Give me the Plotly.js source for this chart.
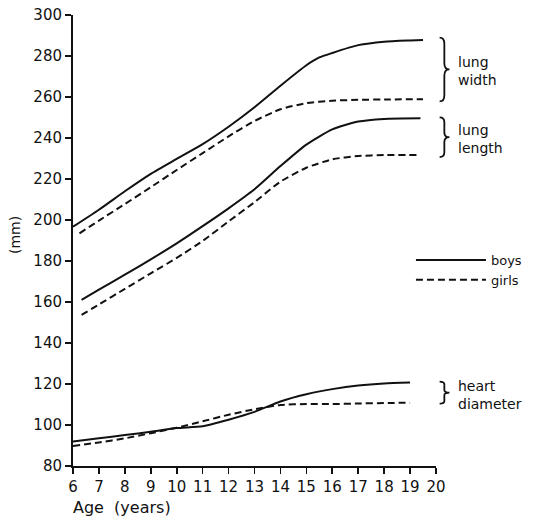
<!DOCTYPE html>
<html>
<head>
<meta charset="utf-8">
<script src="https://cdn.plot.ly/plotly-3.0.1.min.js"></script>
<style>html,body{margin:0;padding:0;background:#fff;}#chart{width:535px;height:520px;}</style>
</head>
<body>
<div id="chart"></div>
<script>
// Age (years) and measurements (mm)
const ageBoysWidth   = [6, 7, 8, 9, 10, 11, 12, 13, 14, 15, 15.5, 16, 17, 18, 19, 19.5];
const boysWidth      = [196.7, 205, 214, 222.5, 229.8, 237, 245.5, 255, 265.5, 275.5, 279.3, 281.5, 285.3, 287, 287.6, 287.8];
const ageGirlsWidth  = [6.25, 7, 8, 9, 10, 11, 12, 13, 14, 15, 16, 17, 18, 19.5];
const girlsWidth     = [193.5, 199.7, 207.8, 216, 224.4, 232.6, 240.8, 248.3, 254, 257, 258.2, 258.6, 258.8, 258.9];

const ageBoysLength  = [6.33, 7, 8, 9, 10, 11, 12, 13, 14, 15, 16, 17, 18, 19.4];
const boysLength     = [161, 166, 173.3, 180.8, 188.6, 197, 205.7, 215, 226.3, 236.8, 244.2, 248, 249.3, 249.6];
const ageGirlsLength = [6.33, 7, 8, 9, 10, 11, 12, 13, 14, 15, 16, 17, 18, 19.3];
const girlsLength    = [153.7, 158.8, 166.4, 174, 181.5, 189.8, 199.3, 208.7, 218.7, 225.5, 229.6, 231.2, 231.7, 231.7];

const ageHeart       = [6, 7, 8, 9, 10, 11, 12, 13, 14, 15, 16, 17, 18, 19];
const boysHeart      = [91.9, 93.5, 95.1, 96.7, 98.5, 99.4, 102.6, 106.4, 111.5, 115, 117.5, 119.3, 120.3, 120.7];
const girlsHeart     = [89.8, 91.5, 93.5, 96, 98.7, 101.8, 105, 107.7, 109.8, 110.2, 110.2, 110.5, 110.7, 110.9];

const xTicks = [6, 7, 8, 9, 10, 11, 12, 13, 14, 15, 16, 17, 18, 19, 20];
const xTickLabels = ['6', '7', '8', '9', '10', '11', '12', '13', '14', '15', '16', '17', '18', '19', '20'];
const yTicks = [80, 100, 120, 140, 160, 180, 200, 220, 240, 260, 280, 300];
const yTickLabels = ['80', '100', '120', '140', '160', '180', '200', '220', '240', '260', '280', '300'];

const FONT = 'DejaVu Sans, sans-serif';
const INK = '#111';
const solid = {color: INK, width: 2, shape: 'spline', smoothing: 0.6};
const dashed = {color: INK, width: 2, shape: 'spline', smoothing: 0.6, dash: '7px,4px'};

function tr(x, y, line, name, show) {
  return {x: x, y: y, type: 'scatter', mode: 'lines', line: line, name: name,
          showlegend: show, hoverinfo: 'x+y'};
}

const data = [
  tr(ageBoysWidth, boysWidth, solid, 'boys', true),
  tr(ageGirlsWidth, girlsWidth, dashed, 'girls', true),
  tr(ageBoysLength, boysLength, solid, 'boys', false),
  tr(ageGirlsLength, girlsLength, dashed, 'girls', false),
  tr(ageHeart, boysHeart, solid, 'boys', false),
  tr(ageHeart, girlsHeart, dashed, 'girls', false)
];

function last(a) { return a[a.length - 1]; }

// curly brace "}" in paper-x / data-y coordinates
function brace(top, bot) {
  const xl = 1.01, xm = 1.023, xt = 1.037;
  const h = top - bot, mid = (top + bot) / 2;
  const c = Math.min(h * 0.12, 3);
  const p = 'M' + xl + ',' + top +
    ' Q' + xm + ',' + top + ' ' + xm + ',' + (top - c) +
    ' L' + xm + ',' + (mid + c) +
    ' Q' + xm + ',' + mid + ' ' + xt + ',' + mid +
    ' Q' + xm + ',' + mid + ' ' + xm + ',' + (mid - c) +
    ' L' + xm + ',' + (bot + c) +
    ' Q' + xm + ',' + bot + ' ' + xl + ',' + bot;
  return {type: 'path', xref: 'paper', yref: 'y', path: p, line: {color: INK, width: 1.8}, layer: 'above'};
}

const groups = [
  {top: last(boysWidth) + 1.2, bot: last(girlsWidth) - 1, label: 'lung<br>width'},
  {top: last(boysLength) + 0.5, bot: last(girlsLength) - 1, label: 'lung<br>length'},
  {top: last(boysHeart) + 0.5, bot: last(girlsHeart) - 0.5, label: 'heart<br>diameter'}
];

const shapes = groups.map(g => brace(g.top, g.bot));
const annotations = groups.map(g => ({
  xref: 'paper', yref: 'y', x: 1.054, y: (g.top + g.bot) / 2 - 1,
  xanchor: 'left', yanchor: 'middle', align: 'left', showarrow: false,
  text: g.label, font: {family: FONT, size: 14, color: INK}
}));
annotations.push({
  xref: 'paper', yref: 'paper', x: -0.006, y: -0.093, xanchor: 'left', yanchor: 'middle',
  showarrow: false, text: 'Age  (years)', font: {family: FONT, size: 16, color: INK}
});
annotations.push({
  xref: 'paper', yref: 'paper', x: -0.16, y: 0.512, xanchor: 'center', yanchor: 'middle',
  textangle: -90, showarrow: false, text: '(mm)', font: {family: FONT, size: 14, color: INK}
});

const axisCommon = {
  showline: true, linewidth: 2, linecolor: INK, showgrid: false, zeroline: false,
  ticks: 'outside', ticklen: 6, tickwidth: 1.6, tickcolor: INK,
  tickfont: {family: FONT, size: 15, color: INK}, fixedrange: true
};

const layout = {
  width: 535, height: 520,
  margin: {l: 73, r: 99, t: 15, b: 54, pad: 0, autoexpand: false},
  paper_bgcolor: '#fff', plot_bgcolor: '#fff',
  showlegend: true,
  legend: {x: 0.931, y: 0.49, xanchor: 'left', yanchor: 'top', itemwidth: 70,
           bgcolor: 'rgba(0,0,0,0)', borderwidth: 0, tracegroupgap: 0,
           font: {family: FONT, size: 13, color: INK}},
  xaxis: Object.assign({}, axisCommon, {range: [6, 20], tickmode: 'array', tickvals: xTicks, ticktext: xTickLabels}),
  yaxis: Object.assign({}, axisCommon, {range: [80, 300], tickmode: 'array', tickvals: yTicks, ticktext: yTickLabels}),
  shapes: shapes,
  annotations: annotations
};

Plotly.newPlot('chart', data, layout, {displayModeBar: false, staticPlot: true});
</script>
</body>
</html>
